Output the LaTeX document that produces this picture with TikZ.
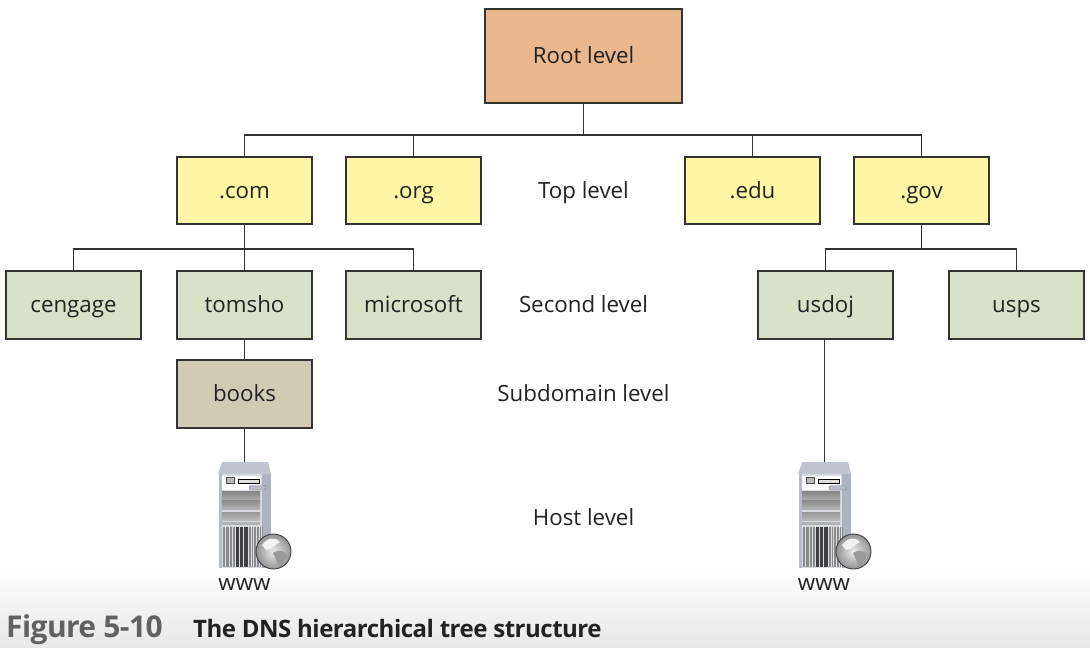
\documentclass[tikz,border=0pt]{standalone}
\usepackage{fontspec}
\setmainfont{Open Sans}
\definecolor{rootfill}{HTML}{EAB88C}
\definecolor{topfill}{HTML}{FFF6A6}
\definecolor{secfill}{HTML}{DAE1C9}
\definecolor{subfill}{HTML}{D2CBB4}
\definecolor{linec}{HTML}{333333}
\definecolor{txt}{HTML}{222222}
\definecolor{casec}{HTML}{B7BDC8}
\definecolor{lidc}{HTML}{BFC4CE}
\definecolor{sidec}{HTML}{AEB4BF}
\definecolor{frontc}{HTML}{D8DBE1}
\tikzset{
 x=1pt,y=-1pt,
 labeltext/.style={text=txt,font=\fontsize{22.3}{26}\selectfont,inner sep=0pt,text height=17pt,text depth=2pt},
 boxbase/.style={labeltext,draw=linec,line width=1.3pt},
 rootbox/.style={boxbase,fill=rootfill,minimum width=197pt,minimum height=94pt},
 topbox/.style={boxbase,fill=topfill,minimum width=135pt,minimum height=67pt},
 secbox/.style={boxbase,fill=secfill,minimum width=135pt,minimum height=68pt},
 subbox/.style={boxbase,fill=subfill,minimum width=135pt,minimum height=68pt},
 levellabel/.style={labeltext},
 conn/.style={draw=linec,line width=1.3pt},
 srvtop/.style={inner sep=0pt,minimum width=1pt,minimum height=1pt},
 serverpic/.pic={
  \fill[lidc] (218,474) -- (222,462) -- (268,462) -- (271,474) -- cycle;
  \fill[sidec] (262,474) rectangle (271,568);
  \fill[frontc] (219,474) rectangle (262,568);
  \fill[casec] (219,474) rectangle (222,568);
  \fill[white] (222,476) rectangle (261,490);
  \draw[black!70,fill=gray!55,line width=.6pt] (226,477.5) rectangle (234,483.5);
  \draw[black,fill=gray!25,line width=.9pt] (238,479) rectangle (259,483.5);
  \draw[gray,fill=casec,line width=.4pt,rounded corners=2pt] (249,485.5) rectangle (266,490);
  \shade[top color=gray!95,bottom color=gray!65] (222,491.5) rectangle (260,500);
  \shade[top color=gray!90,bottom color=gray!60] (222,500.5) rectangle (260,509);
  \shade[top color=gray!80,bottom color=gray!55] (222,512.5) rectangle (260,520.5);
  \fill[gray!60] (222,522) rectangle (260,525);
  \foreach \vx in {223,224.4,...,235}{\draw[gray!90,line width=.5pt] (\vx,527) -- (\vx,567);}
  \foreach \vx in {236,237.3,...,248}{\draw[black!75,line width=.6pt] (\vx,527) -- (\vx,567);}
  \foreach \vx in {249,250.6,...,262}{\draw[gray!90,line width=.5pt] (\vx,527) -- (\vx,567);}
  \shade[inner color=gray!15,outer color=gray!85] (273.5,551.5) circle (17.5pt);
  \draw[black!75,line width=.9pt] (273.5,551.5) circle (17.5pt);
  \fill[gray!10] (262,545) .. controls (268,537) and (276,537) .. (280,542) .. controls (274,545) and (272,550) .. (266,550) -- cycle;
  \fill[gray!80] (273,553) .. controls (280,548) and (288,553) .. (287,556) .. controls (284,560) and (281,565) .. (279,566) .. controls (277,562) and (275,557) .. (273,553) -- cycle;
 },
}
\begin{document}
\begin{tikzpicture}
\useasboundingbox (0,0) rectangle (1090,648);
\fill[white] (0,0) rectangle (1090,648);
\shade[top color=white,bottom color=black!9] (0,562) rectangle (1090,648);
\coordinate (busa) at (583.5,135);
\coordinate (busb) at (244.5,249);
\coordinate (busc) at (921.5,249);
\node[rootbox] (root) at (583.5,56) {Root level};
\node[topbox] (com) at (244.5,190.5) {.com};
\node[topbox] (org) at (413.5,190.5) {.org};
\node[topbox] (edu) at (752.5,190.5) {.edu};
\node[topbox] (gov) at (921.5,190.5) {.gov};
\node[secbox] (cengage) at (73.5,305) {cengage};
\node[secbox] (tomsho) at (244.5,305) {tomsho};
\node[secbox] (microsoft) at (413.5,305) {microsoft};
\node[secbox] (usdoj) at (825.5,305) {usdoj};
\node[secbox] (usps) at (1016.5,305) {usps};
\node[subbox] (books) at (244.5,394) {books};
\node[levellabel] (ltop) at (583.5,190.5) {Top level};
\node[levellabel] (lsec) at (583.5,305) {Second level};
\node[levellabel] (lsub) at (583.5,394) {Subdomain level};
\node[levellabel] (lhost) at (583.5,518) {Host level};
\pic at (0,0) {serverpic};
\pic at (580,0) {serverpic};
\node[srvtop] (srva) at (244.5,462) {};
\node[srvtop] (srvb) at (824.5,462) {};
\node[levellabel] (wwwa) at (244.5,583) {www};
\node[levellabel] (wwwb) at (824,583) {www};
\draw[conn] (root.south) -- (busa);
\draw[conn] (com.north) |- (busa);
\draw[conn] (org.north) |- (busa);
\draw[conn] (edu.north) |- (busa);
\draw[conn] (gov.north) |- (busa);
\draw[conn] (com.south) -- (tomsho.north);
\draw[conn] (cengage.north) |- (busb);
\draw[conn] (microsoft.north) |- (busb);
\draw[conn] (gov.south) -- (busc);
\draw[conn] (usps.north) |- (busc);
\draw[conn] (usdoj.north) |- (busc);
\draw[conn] (tomsho.south) -- (books.north);
\draw[conn] (books.south) -- (srva.center);
\draw[conn] (srvb.center) -- (srvb |- usdoj.south);
\node[anchor=base west,inner sep=0pt,text=black!62,font=\fontsize{30}{34}\bfseries\selectfont] (figno) at (6,637) {\addfontfeature{LetterSpace=-2}Figure 5-10};
\node[anchor=base west,inner sep=0pt,text=txt,font=\fontsize{24}{26}\bfseries\selectfont] (figcap) at (193,637) {\addfontfeature{LetterSpace=-2}The DNS hierarchical tree structure};
\end{tikzpicture}
\end{document}
